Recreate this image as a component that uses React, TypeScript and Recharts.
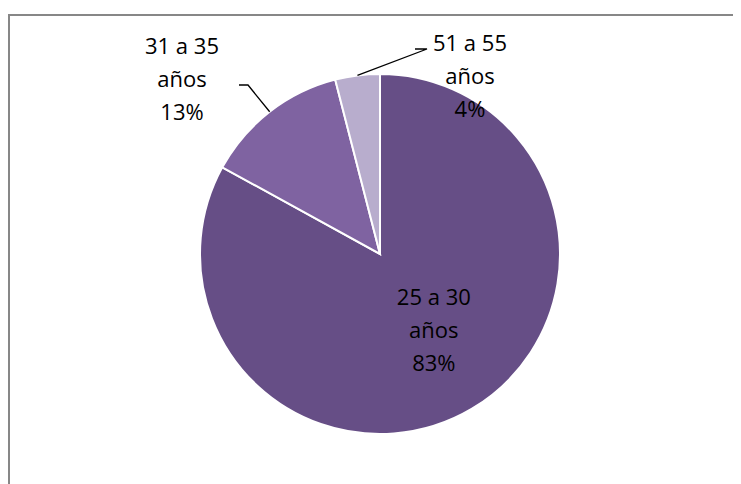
import React from "react";
import { PieChart, Pie, Cell } from "recharts";

const categories = ["25 a 30 años", "31 a 35 años", "51 a 55 años"];
const values = [83, 13, 4];
const percentLabels = ["83%", "13%", "4%"];
const colors = ["#664E86", "#7F63A1", "#B8ADCD"];

const data = categories.map((name, i) => ({ name, value: values[i], pct: percentLabels[i] }));

const RAD = Math.PI / 180;
// label layout relative to pie centre
const labelLayout = [
  { inside: true, r: 0.5, shift: { dx: 8, dy: -2 } },
  { elbow: { dx: -132, dy: -169 }, end: { dx: -141, dy: -169 }, text: { dx: -198, dy: -176 } },
  { elbow: { dx: 47, dy: -205 }, end: { dx: 35, dy: -205 }, text: { dx: 90, dy: -179 } },
];

const FONT = "'Open Sans', sans-serif";
const LINE_H = 33;

const renderLabel = (props: any) => {
  const { cx, cy, midAngle, outerRadius, index } = props;
  const lay: any = labelLayout[index];
  const lines = [categories[index].replace(" años", ""), "años", percentLabels[index]];
  let tx: number, ty: number;
  let leader: React.ReactNode = null;
  if (lay.inside) {
    tx = cx + outerRadius * lay.r * Math.cos(-midAngle * RAD) + lay.shift.dx;
    ty = cy + outerRadius * lay.r * Math.sin(-midAngle * RAD) + lay.shift.dy;
  } else {
    const sx = cx + outerRadius * Math.cos(-midAngle * RAD);
    const sy = cy + outerRadius * Math.sin(-midAngle * RAD);
    const ex = cx + lay.elbow.dx;
    const ey = cy + lay.elbow.dy;
    const fx = cx + lay.end.dx;
    const fy = cy + lay.end.dy;
    leader = (
      <polyline points={`${sx},${sy} ${ex},${ey} ${fx},${fy}`} fill="none" stroke="#000" strokeWidth={1.3} />
    );
    tx = cx + lay.text.dx;
    ty = cy + lay.text.dy;
  }
  return (
    <g key={`lbl-${index}`}>
      {leader}
      {lines.map((ln, i) => (
        <text
          key={i}
          x={tx}
          y={ty + (i - 1) * LINE_H}
          textAnchor="middle"
          dominantBaseline="central"
          fontFamily={FONT}
          fontSize={22}
          fill="#000"
        >
          {ln}
        </text>
      ))}
    </g>
  );
};

export default function App() {
  return (
    <div style={{ position: "relative", width: 733, height: 476, overflow: "hidden", background: "#fff" }}>
      <div
        style={{
          position: "absolute",
          left: 0,
          top: 6,
          width: 900,
          height: 700,
          borderTop: "2px solid #878787",
          borderLeft: "2px solid #878787",
          boxSizing: "border-box",
        }}
      />
      <div style={{ position: "absolute", left: 0, top: 0 }}>
        <PieChart width={733} height={476} margin={{ top: 0, right: 0, bottom: 0, left: 0 }}>
          <Pie
            data={data}
            dataKey="value"
            nameKey="name"
            cx={372}
            cy={246}
            outerRadius={180}
            startAngle={90}
            endAngle={-270}
            stroke="#fff"
            strokeWidth={2}
            label={renderLabel}
            labelLine={false}
            isAnimationActive={false}
          >
            {data.map((d, i) => (
              <Cell key={d.name} fill={colors[i]} />
            ))}
          </Pie>
        </PieChart>
      </div>
    </div>
  );
}
